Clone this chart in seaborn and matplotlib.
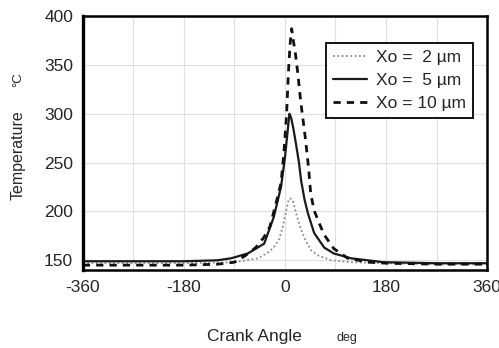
import matplotlib
matplotlib.use("Agg")
import matplotlib.pyplot as plt
import seaborn as sns
import pandas as pd

# Crank angle (deg) and surface temperature (deg C) for three roughness heights Xo
ang_2 = [-360, -270, -180, -90, -48, -30, -20, -10, -4, 2, 7, 10, 14, 20, 25, 31, 37, 47, 59, 82, 120, 180, 270, 360]
temp_2 = [147, 147, 147, 148, 152, 158, 163, 172, 184, 200, 213, 213, 211, 198, 188, 178, 170, 160, 155, 150, 148, 147, 146, 146]

ang_5 = [-360, -270, -180, -120, -96, -66, -37, -20, -7, 0, 5, 8, 11, 15, 20, 25, 29, 35, 41, 52, 70, 87, 118, 176, 270, 360]
temp_5 = [149, 149, 149, 150, 152, 157, 167, 194, 225, 255, 283, 300, 296, 285, 268, 250, 231, 212, 198, 178, 163, 157, 152, 148, 147, 147]

ang_10 = [-360, -270, -180, -120, -90, -70, -52, -38, -27, -16, -7, -2, 3, 6, 9, 12, 15, 19, 23, 28, 34, 37, 42, 46, 52, 61, 70, 87, 112, 150, 180, 270, 360]
temp_10 = [145, 145, 145, 146, 148, 155, 163, 173, 184, 208, 229, 259, 300, 340, 370, 387, 375, 360, 341, 313, 286, 272, 245, 218, 201, 188, 176, 162, 152, 148, 147, 146, 146]

series_labels = ["Xo =  2 \u00b5m", "Xo =  5 \u00b5m", "Xo = 10 \u00b5m"]
x_major = [-360, -180, 0, 180, 360]
x_minor = [-270, -90, 90, 270]
y_ticks = [150, 200, 250, 300, 350, 400]

sns.set_style("white")
plt.rcParams["font.family"] = ["Liberation Sans", "DejaVu Sans"]

fig = plt.figure(figsize=(4.99, 3.48), dpi=100)
ax = fig.add_axes([0.166, 0.224, 0.81, 0.73])

styles = [
    dict(color="#8c8c8c", linewidth=1.3, linestyle=(0, (1, 1.4))),
    dict(color="#1a1a1a", linewidth=1.6, linestyle="-"),
    dict(color="#111111", linewidth=2.0, linestyle=(0, (2.6, 2.2))),
]
for xs, ys, lab, st in zip([ang_2, ang_5, ang_10], [temp_2, temp_5, temp_10], series_labels, styles):
    df = pd.DataFrame({"angle": xs, "temp": ys})
    sns.lineplot(data=df, x="angle", y="temp", ax=ax, sort=False, estimator=None,
                 label=lab, **st)

ax.set_xlim(-360, 360)
ax.set_ylim(140, 400)
ax.set_xticks(x_major)
ax.set_xticks(x_minor, minor=True)
ax.set_yticks(y_ticks)
ax.tick_params(axis="both", which="both", direction="in", length=9.5, width=1.5,
               color="black", labelsize=12.5, pad=7)
ax.set_xticklabels([str(v) for v in x_major])

ax.grid(True, which="both", color="#e0e0e0", linewidth=0.8)
for sp in ax.spines.values():
    sp.set_visible(True)
    sp.set_color("black")
    sp.set_linewidth(1.8)
ax.spines["left"].set_linewidth(2.4)

ax.set_xlabel("")
ax.set_ylabel("")
fig.text(0.51, 0.034, "Crank Angle", fontsize=12.5, ha="center", va="center")
fig.text(0.696, 0.03, "deg", fontsize=9, ha="center", va="center")
fig.text(0.036, 0.555, "Temperature", fontsize=11.5, rotation=90, ha="center", va="center")
fig.text(0.036, 0.772, "\u00b0C", fontsize=9.5, rotation=90, ha="center", va="center")

leg = ax.legend(loc="upper right", bbox_to_anchor=(0.965, 0.894), fontsize=12.5,
                frameon=True, fancybox=False, framealpha=1, edgecolor="black",
                handlelength=2.0, labelspacing=0.45, borderpad=0.4,
                handletextpad=0.5, borderaxespad=0)
leg.get_frame().set_linewidth(1.3)

fig.savefig("out.png", dpi=100)
